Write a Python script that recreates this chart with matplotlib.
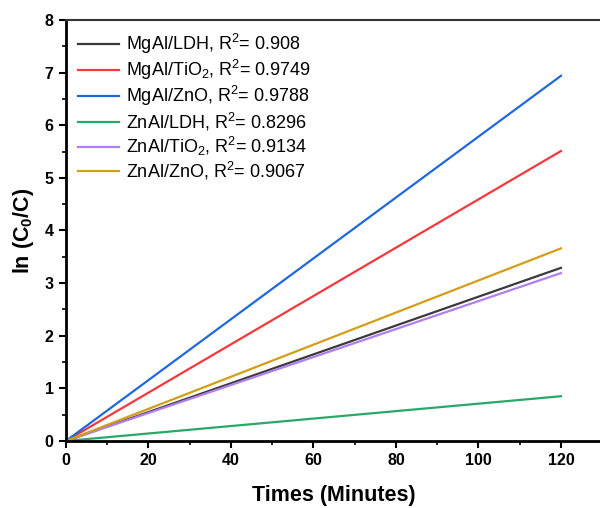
import matplotlib.pyplot as plt
from matplotlib.ticker import MultipleLocator

# data
times = [0, 120]
labels = ["MgAl/LDH, R$^2$= 0.908", "MgAl/TiO$_2$, R$^2$= 0.9749", "MgAl/ZnO, R$^2$= 0.9788",
          "ZnAl/LDH, R$^2$= 0.8296", "ZnAl/TiO$_2$, R$^2$= 0.9134", "ZnAl/ZnO, R$^2$= 0.9067"]
mgal_ldh = [0, 3.29]
mgal_tio2 = [0, 5.51]
mgal_zno = [0, 6.94]
znal_ldh = [0, 0.85]
znal_tio2 = [0, 3.19]
znal_zno = [0, 3.66]
series = [mgal_ldh, mgal_tio2, mgal_zno, znal_ldh, znal_tio2, znal_zno]
colors = ["#3a3a3a", "#f5383c", "#2068e0", "#2aa86a", "#b07ef0", "#d19e16"]

# style setup
plt.rcParams['font.family'] = 'Liberation Sans'
plt.rcParams['mathtext.fontset'] = 'custom'
plt.rcParams['mathtext.rm'] = 'Liberation Sans'
plt.rcParams['mathtext.bf'] = 'Liberation Sans:bold'

fig = plt.figure(figsize=(6, 5.08), dpi=100)
ax = fig.add_axes([0.11, 0.132, 0.8937, 0.8286])

for ys, lab, c in zip(series, labels, colors):
    ax.plot(times, ys, color=c, linewidth=1.6, label=lab)

ax.set_xlim(0, 130)
ax.set_ylim(0, 8)
ax.xaxis.set_major_locator(MultipleLocator(20))
ax.xaxis.set_minor_locator(MultipleLocator(10))
ax.yaxis.set_major_locator(MultipleLocator(1))
ax.yaxis.set_minor_locator(MultipleLocator(0.5))
ax.tick_params(which='major', direction='out', length=5, width=1.5, labelsize=11.5, pad=4)
ax.tick_params(which='minor', direction='out', length=3, width=1.2)
for t in ax.get_xticklabels() + ax.get_yticklabels():
    t.set_fontweight('bold')

ax.spines['left'].set_linewidth(2)
ax.spines['bottom'].set_linewidth(2)
ax.spines['top'].set_linewidth(1.5)
ax.spines['top'].set_color('#333333')
ax.spines['right'].set_visible(False)

ax.set_xlabel("Times (Minutes)", fontsize=15.5, fontweight='bold', labelpad=12)
ax.set_ylabel("ln (C$_\\mathbf{0}$/C)", fontsize=15.5, fontweight='bold', labelpad=6)

ax.legend(loc="upper left", frameon=False, fontsize=13, handlelength=2.3,
          handletextpad=0.35, labelspacing=0.12, borderaxespad=0.25,
          bbox_to_anchor=(0.0, 1.0))

plt.savefig("out.png", dpi=100)
